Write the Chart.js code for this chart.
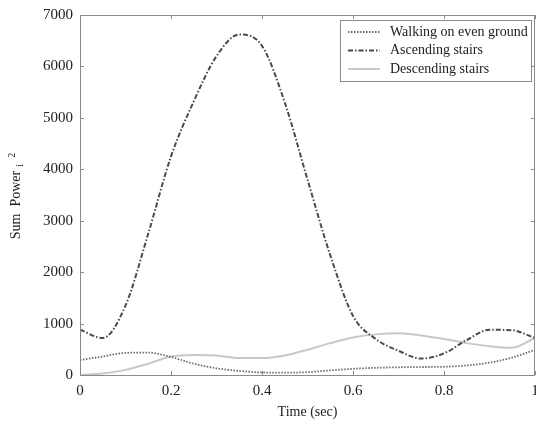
<!DOCTYPE html>
<html>
<head>
<meta charset="utf-8">
<script src="https://cdn.jsdelivr.net/npm/chart.js@4"></script>
<style>
  html, body { margin: 0; padding: 0; background: #fff; }
  #wrap { width: 536px; height: 425px; }
</style>
</head>
<body>
<div id="wrap"><canvas id="chart"></canvas></div>
<script>
// data (time step 0.05 s)
const time = [0, 0.05, 0.1, 0.15, 0.2, 0.25, 0.3, 0.35, 0.4, 0.45, 0.5,
              0.55, 0.6, 0.65, 0.7, 0.75, 0.8, 0.85, 0.9, 0.95, 1]
const walking = [290, 360, 430, 435, 350, 220, 130, 80, 50, 45, 55,
                 90, 120, 140, 150, 155, 160, 185, 240, 340, 490]
const ascending = [880, 720, 1350, 2750, 4250, 5320, 6200, 6620, 6400, 5300, 3800,
                   2330, 1150, 700, 470, 320, 420, 680, 880, 870, 720]
const descending = [0, 30, 100, 220, 360, 390, 380, 330, 330, 380, 490,
                    620, 730, 790, 810, 770, 700, 620, 560, 530, 720]
const seriesNames = ['Walking on even ground', 'Ascending stairs', 'Descending stairs']
const xTicks = [0, 0.2, 0.4, 0.6, 0.8, 1]
const yTicks = [0, 1000, 2000, 3000, 4000, 5000, 6000, 7000]

const serif = '"Liberation Serif", "DejaVu Serif", serif'

function pts(arr) {
    return time.map((t, i) => ({ x: t, y: arr[i] }))
}

// frame round the plot with inward tick marks
const framePlugin = {
    id: 'frame',
    afterDraw(chart) {
        const ctx = chart.ctx
        const a = chart.chartArea
        const xs = chart.scales.x
        const ys = chart.scales.y
        ctx.save()
        ctx.strokeStyle = '#8a8a8a'
        ctx.lineWidth = 1
        ctx.strokeRect(a.left + 0.5, a.top + 0.5, a.right - a.left - 1, a.bottom - a.top)
        ctx.beginPath()
        xTicks.forEach(v => {
            const px = Math.round(xs.getPixelForValue(v)) + 0.5
            ctx.moveTo(px, a.bottom); ctx.lineTo(px, a.bottom - 4)
            ctx.moveTo(px, a.top); ctx.lineTo(px, a.top + 4)
        })
        yTicks.forEach(v => {
            const py = Math.round(ys.getPixelForValue(v)) + 0.5
            ctx.moveTo(a.left, py); ctx.lineTo(a.left + 4, py)
            ctx.moveTo(a.right, py); ctx.lineTo(a.right - 4, py)
        })
        ctx.stroke()
        ctx.restore()
    }
}

// y title with subscript i and superscript 2
const yTitlePlugin = {
    id: 'ytitle',
    afterDraw(chart) {
        const ctx = chart.ctx
        const a = chart.chartArea
        ctx.save()
        ctx.translate(20, (a.top + a.bottom) / 2 + 10)
        ctx.rotate(-Math.PI / 2)
        ctx.fillStyle = '#222'
        ctx.font = '14px ' + serif
        ctx.textBaseline = 'alphabetic'
        ctx.textAlign = 'center'
        ctx.fillText('Sum  Power', 0, 0)
        const w = ctx.measureText('Sum  Power').width
        ctx.font = '10px ' + serif
        ctx.textAlign = 'left'
        ctx.fillText('i', w / 2 + 4, 3)
        ctx.fillText('2', w / 2 + 13, -5)
        ctx.restore()
    }
}

// legend box in the top right corner
const legendPlugin = {
    id: 'boxlegend',
    afterDraw(chart) {
        const ctx = chart.ctx
        const a = chart.chartArea
        const x0 = a.right - 195, y0 = a.top + 5, w = 191, h = 61
        ctx.save()
        ctx.fillStyle = '#fff'
        ctx.fillRect(x0, y0, w, h)
        ctx.strokeStyle = '#8a8a8a'
        ctx.lineWidth = 1
        ctx.strokeRect(x0 + 0.5, y0 + 0.5, w, h)
        chart.data.datasets.forEach((ds, i) => {
            const y = y0 + 12 + i * 18.5
            ctx.beginPath()
            ctx.strokeStyle = ds.borderColor
            ctx.lineWidth = ds.borderWidth
            ctx.setLineDash(ds.borderDash || [])
            ctx.moveTo(x0 + 8, y); ctx.lineTo(x0 + 40, y)
            ctx.stroke()
            ctx.setLineDash([])
            ctx.fillStyle = '#222'
            ctx.font = '14px ' + serif
            ctx.textBaseline = 'middle'
            ctx.fillText(ds.label, x0 + 50, y)
        })
        ctx.restore()
    }
}

new Chart(document.getElementById('chart'), {
    type: 'line',
    data: {
        datasets: [{
            label: seriesNames[0],
            data: pts(walking),
            borderColor: '#6a6a6a',
            borderWidth: 1.8,
            borderDash: [1.5, 1.5],
            pointRadius: 0,
            cubicInterpolationMode: 'monotone'
        }, {
            label: seriesNames[1],
            data: pts(ascending),
            borderColor: '#4a4a4a',
            borderWidth: 2,
            borderDash: [5, 2, 1.5, 2],
            pointRadius: 0,
            cubicInterpolationMode: 'monotone'
        }, {
            label: seriesNames[2],
            data: pts(descending),
            borderColor: '#c8c8c8',
            borderWidth: 2,
            pointRadius: 0,
            cubicInterpolationMode: 'monotone'
        }]
    },
    options: {
        responsive: true,
        maintainAspectRatio: false,
        animation: false,
        layout: { padding: { top: 15, right: 1, left: 0, bottom: 0 } },
        plugins: {
            legend: { display: false },
            tooltip: { enabled: false }
        },
        scales: {
            x: {
                type: 'linear',
                min: 0,
                max: 1,
                afterBuildTicks: s => { s.ticks = xTicks.map(v => ({ value: v })) },
                afterFit: s => { s.height = 50; s.paddingRight = 0; s.paddingLeft = 0 },
                grid: { display: false, drawTicks: false },
                border: { display: false },
                ticks: {
                    padding: 7,
                    color: '#222',
                    font: { family: serif, size: 15 },
                    callback: v => String(v)
                },
                title: {
                    display: true,
                    text: 'Time (sec)',
                    color: '#222',
                    font: { family: serif, size: 14 },
                    padding: { top: 2, bottom: 4 }
                }
            },
            y: {
                min: 0,
                max: 7000,
                afterBuildTicks: s => { s.ticks = yTicks.map(v => ({ value: v })) },
                afterFit: s => { s.width = 80; s.paddingTop = 0; s.paddingBottom = 0 },
                grid: { display: false, drawTicks: false },
                border: { display: false },
                ticks: {
                    padding: 7,
                    color: '#222',
                    font: { family: serif, size: 15 },
                    callback: v => String(v)
                }
            }
        }
    },
    plugins: [framePlugin, yTitlePlugin, legendPlugin]
})
</script>
</body>
</html>
